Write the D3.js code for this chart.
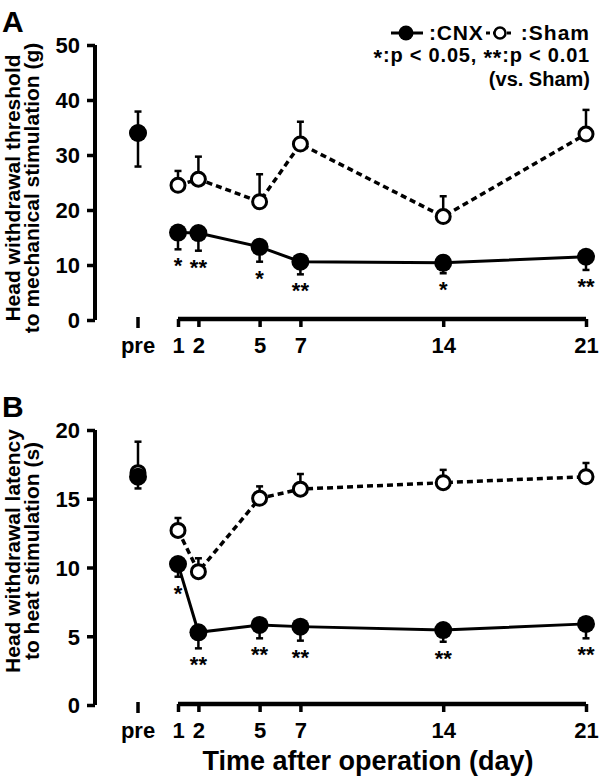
<!DOCTYPE html>
<html>
<head>
<meta charset="utf-8">
<script src="https://cdn.jsdelivr.net/npm/d3@7"></script>
<style>
  html, body { margin: 0; padding: 0; background: #fff; }
  svg { display: block; }
  text { font-family: "Liberation Sans", Arial, Helvetica, sans-serif; font-weight: bold; fill: #000; }
</style>
</head>
<body>
<svg id="chart" width="600" height="777"></svg>
<script>
// ---------- data ----------
const days = ["pre", 1, 2, 5, 7, 14, 21];
const dayLabels = ["pre", "1", "2", "5", "7", "14", "21"];

// Panel A: head withdrawal threshold (g)
const cnxA = [34.0, 15.9, 15.8, 13.3, 10.6, 10.4, 11.5];
const cnxAerr = [6.1, 3.05, 3.2, 2.7, 2.3, 1.9, 2.4];
const shamA = [34.0, 24.5, 25.6, 21.5, 32.0, 18.8, 33.8];
const shamAerr = [3.9, 2.6, 4.1, 5.0, 4.05, 3.7, 4.4];
const sigA = ["", "*", "**", "*", "**", "*", "**"];
const yTicksA = [0, 10, 20, 30, 40, 50];

// Panel B: head withdrawal latency (s)
const cnxB = [16.6, 10.25, 5.29, 5.82, 5.7, 5.45, 5.9];
const cnxBerr = [0.85, 0.92, 1.17, 0.97, 1.02, 0.85, 1.05];
const shamB = [16.9, 12.7, 9.7, 15.03, 15.7, 16.17, 16.6];
const shamBerr = [2.25, 0.9, 0.97, 0.87, 1.1, 0.93, 1.0];
const sigB = ["", "*", "**", "**", "**", "**", "**"];
const yTicksB = [0, 5, 10, 15, 20];

// ---------- drawing ----------
const svg = d3.select("#chart");
const FONT = 22;

const xScale = d3.scaleLinear().domain([1, 21]).range([178, 586]);
const xPos = d => d === "pre" ? xScale(1) - 40 : xScale(d);

function drawPanel(cfg) {
  const g = svg.append("g");
  const y = d3.scaleLinear().domain([0, cfg.ymax]).range([cfg.bottom, cfg.top]);
  const y0 = y(0);

  // panel letter
  g.append("text").attr("x", 2).attr("y", cfg.top - 13).attr("font-size", 30).text(cfg.letter);

  // y axis
  const yAxis = d3.axisLeft(y).tickValues(cfg.yTicks).tickSize(8).tickPadding(7).tickFormat(d3.format("d"));
  const ya = g.append("g").attr("transform", "translate(95,0)").call(yAxis);
  ya.select(".domain").attr("d", `M0,${cfg.top}V${y0}`).attr("stroke", "#000").attr("stroke-width", 4).attr("fill", "none");
  ya.selectAll(".tick line").attr("stroke", "#000").attr("stroke-width", 3.5);
  ya.selectAll(".tick text").attr("font-size", FONT).attr("dy", "0.36em");
  ya.attr("font-family", null).attr("font-size", null);

  // y title
  const tt = g.append("text").attr("transform", `translate(0,${cfg.titleCenter}) rotate(-90)`)
    .attr("text-anchor", "middle").attr("font-size", 21);
  tt.append("tspan").attr("x", 0).attr("y", 20).text(cfg.title1);
  tt.append("tspan").attr("x", 0).attr("y", 39).text(cfg.title2);

  // x axis (days 1..21)
  const xAxis = d3.axisBottom(xScale).tickValues(days.slice(1)).tickSize(8).tickPadding(6).tickFormat(d => String(d));
  const xa = g.append("g").attr("transform", `translate(0,${y0 - 1})`).call(xAxis);
  xa.select(".domain").attr("d", `M${xScale(1)},0H${xScale(21)}`).attr("stroke", "#000").attr("stroke-width", 4.5).attr("fill", "none");
  xa.selectAll(".tick line").attr("stroke", "#000").attr("stroke-width", 3.5);
  xa.selectAll(".tick text").attr("font-size", FONT).attr("y", 34).attr("dy", 0);
  xa.attr("font-family", null).attr("font-size", null);
  // pre tick
  g.append("line").attr("x1", xPos("pre")).attr("x2", xPos("pre"))
    .attr("y1", y0 - 3).attr("y2", y0 + 8).attr("stroke", "#000").attr("stroke-width", 3.5);
  g.append("text").attr("x", xPos("pre")).attr("y", y0 + 33).attr("text-anchor", "middle")
    .attr("font-size", FONT).text(dayLabels[0]);

  const idx = d3.range(1, days.length);

  // sham (drawn first)
  g.append("path").datum(idx)
    .attr("d", d3.line().x(i => xPos(days[i])).y(i => y(cfg.sham[i])))
    .attr("fill", "none").attr("stroke", "#000").attr("stroke-width", 3.5).attr("stroke-dasharray", "6,4");
  // CNX line
  g.append("path").datum(idx)
    .attr("d", d3.line().x(i => xPos(days[i])).y(i => y(cfg.cnx[i])))
    .attr("fill", "none").attr("stroke", "#000").attr("stroke-width", 3);

  const R = 8.5;
  // sham error bars (up) + circles
  days.forEach((d, i) => {
    const cx = xPos(d), cy = y(cfg.sham[i]), ey = y(cfg.sham[i] + cfg.shamErr[i]);
    g.append("line").attr("x1", cx).attr("x2", cx).attr("y1", cy).attr("y2", ey).attr("stroke", "#000").attr("stroke-width", 2.5);
    g.append("line").attr("x1", cx - 3.5).attr("x2", cx + 3.5).attr("y1", ey).attr("y2", ey).attr("stroke", "#000").attr("stroke-width", 2.5);
  });
  days.forEach((d, i) => {
    g.append("circle").attr("cx", xPos(d)).attr("cy", y(cfg.sham[i])).attr("r", R - 1.5)
      .attr("fill", "#fff").attr("stroke", "#000").attr("stroke-width", 3);
  });
  // CNX error bars (down) + circles
  days.forEach((d, i) => {
    const cx = xPos(d), cy = y(cfg.cnx[i]), ey = y(cfg.cnx[i] - cfg.cnxErr[i]);
    g.append("line").attr("x1", cx).attr("x2", cx).attr("y1", cy).attr("y2", ey).attr("stroke", "#000").attr("stroke-width", 2.5);
    g.append("line").attr("x1", cx - 3.5).attr("x2", cx + 3.5).attr("y1", ey).attr("y2", ey).attr("stroke", "#000").attr("stroke-width", 2.5);
  });
  days.forEach((d, i) => {
    g.append("circle").attr("cx", xPos(d)).attr("cy", y(cfg.cnx[i])).attr("r", R + 0.5).attr("fill", "#000");
  });
  // significance asterisks
  days.forEach((d, i) => {
    if (!cfg.sig[i]) return;
    const ey = y(cfg.cnx[i] - cfg.cnxErr[i]);
    g.append("text").attr("x", xPos(d)).attr("y", ey + 24).attr("text-anchor", "middle")
      .attr("font-size", 22).text(cfg.sig[i]);
  });
}

drawPanel({
  letter: "A", top: 45, bottom: 320, ymax: 50, yTicks: yTicksA,
  title1: "Head withdrawal threshold", title2: "to mechanical stimulation (g)", titleCenter: 188,
  cnx: cnxA, cnxErr: cnxAerr, sham: shamA, shamErr: shamAerr, sig: sigA
});
drawPanel({
  letter: "B", top: 430, bottom: 705, ymax: 20, yTicks: yTicksB,
  title1: "Head withdrawal latency", title2: "to heat stimulation (s)", titleCenter: 551,
  cnx: cnxB, cnxErr: cnxBerr, sham: shamB, shamErr: shamBerr, sig: sigB
});

// x title
svg.append("text").attr("x", 368).attr("y", 770).attr("text-anchor", "middle").attr("font-size", 27)
  .text("Time after operation (day)");

// legend
const lg = svg.append("g");
lg.append("line").attr("x1", 391).attr("x2", 423).attr("y1", 33).attr("y2", 33).attr("stroke", "#000").attr("stroke-width", 3);
lg.append("circle").attr("cx", 406).attr("cy", 33).attr("r", 7.5).attr("fill", "#000");
lg.append("text").attr("x", 429).attr("y", 40).attr("font-size", 21).attr("letter-spacing", 0.8).text(":CNX");
lg.append("line").attr("x1", 486).attr("x2", 513).attr("y1", 33).attr("y2", 33).attr("stroke", "#000").attr("stroke-width", 3).attr("stroke-dasharray", "4,3");
lg.append("circle").attr("cx", 500).attr("cy", 33).attr("r", 5.5).attr("fill", "#fff").attr("stroke", "#000").attr("stroke-width", 2.5);
lg.append("text").attr("x", 590).attr("y", 40).attr("text-anchor", "end").attr("font-size", 21).attr("letter-spacing", 1).text(":Sham");
const l2 = lg.append("text").attr("x", 590).attr("y", 62).attr("text-anchor", "end").attr("font-size", 20).attr("letter-spacing", 0.8);
l2.append("tspan").attr("font-size", 22).attr("dy", 3).text("*");
l2.append("tspan").attr("dy", -3).text(":p < 0.05, ");
l2.append("tspan").attr("font-size", 22).attr("dy", 3).text("**");
l2.append("tspan").attr("dy", -3).text(":p < 0.01");
lg.append("text").attr("x", 590).attr("y", 86).attr("text-anchor", "end").attr("font-size", 20).text("(vs. Sham)");
</script>
</body>
</html>
